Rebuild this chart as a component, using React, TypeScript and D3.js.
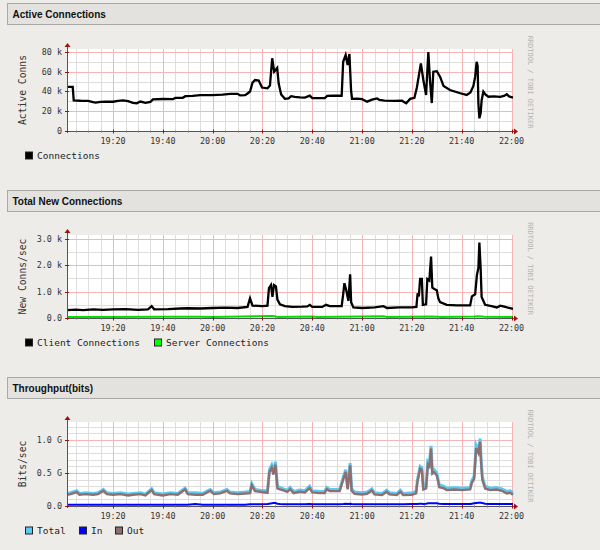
import { useEffect, useRef } from "react";
import * as d3 from "d3";

// minutes after 19:00, value
const activeConnections: [number, number][] = [
  [1.5, 44.6], [3.8, 44.6], [4.2, 31], [7, 30.6], [10, 30.5], [12, 29.2], [13, 28.7], [15, 29.5],
  [17, 29.8], [20, 29.6], [22, 30.5], [24, 31], [26, 30.2], [28, 28.5], [29.5, 28], [31, 29.8],
  [33, 28.5], [35, 29.5], [36, 32], [40, 32.4], [44, 32.2], [45, 33.5], [48, 33.6], [49, 35.2],
  [52, 35.6], [55, 36.4], [60, 36.3], [64, 36.8], [67, 37.5], [70, 37.6], [71, 36], [73, 36.2],
  [74, 38], [75, 40], [76, 49], [77, 51.6], [78.5, 51], [79.8, 44], [82, 43.2], [83, 46],
  [83.9, 73.6], [84.7, 60], [85.9, 63.8], [86.5, 48], [87.5, 37], [89, 32.6], [90.5, 33],
  [91.5, 35.2], [93, 34.6], [95, 34], [97, 33.8], [99, 35.8], [100, 33.4], [103, 33.2],
  [105, 33.3], [106, 35.6], [108, 35.8], [111.8, 35.7], [112.4, 70], [113.4, 77], [114.2, 66.8],
  [114.9, 78], [115.6, 40], [116, 32.6], [118, 32.8], [120, 32.2], [122, 29.7], [124, 31.8],
  [126, 33], [127, 31.5], [129, 30.8], [133, 30.5], [136, 30.6], [137.7, 28], [139.3, 32.5],
  [141, 33.5], [142, 44], [143.6, 68.5], [144.6, 51.6], [145.7, 36.5], [146.6, 80], [147.3, 50],
  [148, 28.3], [148.6, 60], [150, 60.5], [151.3, 55], [152.7, 45.6], [155.3, 41.5], [159.4, 38.2],
  [162, 36.5], [163.5, 39], [164.7, 45.6], [165.4, 55], [166, 70], [166.4, 66], [166.7, 28],
  [167.1, 12.8], [167.6, 18], [168, 31], [168.7, 39.8], [169.5, 37], [170.7, 34.7], [173, 35],
  [175.4, 34.6], [177, 35.5], [178.1, 37.2], [179, 35], [180.6, 33.8],
];

const clientConnections: [number, number][] = [
  [1.5, 0.3], [5, 0.32], [8, 0.3], [12, 0.33], [16, 0.31], [20, 0.33], [25, 0.34], [30, 0.31],
  [34, 0.33], [35.5, 0.45], [36.5, 0.33], [42, 0.34], [47, 0.36], [50, 0.37], [55, 0.36],
  [60, 0.38], [65, 0.39], [70, 0.38], [74, 0.42], [75, 0.75], [76, 0.47], [80, 0.45], [82, 0.47],
  [82.6, 1.13], [83.4, 1.25], [84, 0.8], [84.6, 1.25], [85.4, 1.2], [86, 0.7], [87, 0.52],
  [89, 0.45], [92, 0.42], [96, 0.43], [98, 0.44], [99, 0.5], [100, 0.42], [104, 0.42],
  [105.5, 0.5], [107, 0.45], [111.8, 0.45], [112.4, 0.9], [112.9, 1.32], [113.6, 1.07],
  [114.5, 0.65], [115.2, 1.66], [115.6, 0.6], [116.5, 0.4], [120, 0.38], [125, 0.4],
  [128.6, 0.45], [130, 0.38], [135, 0.4], [140, 0.4], [141.8, 0.42], [142.3, 0.94], [142.8, 0.82],
  [143.3, 1.48], [144, 1.48], [144.4, 0.5], [145.7, 0.52], [146.2, 1.48], [147, 1.42],
  [147.7, 2.33], [148.2, 1.15], [149, 1.1], [150, 1.05], [150.6, 0.75], [151.3, 0.6], [154, 0.5],
  [158, 0.48], [163.4, 0.48], [164.1, 0.82], [165.4, 0.9], [166.1, 1.63], [166.7, 1.9],
  [167.1, 2.86], [167.6, 1.9], [168, 0.8], [169.4, 0.5], [172, 0.45], [174.1, 0.4], [175.5, 0.47],
  [177.5, 0.42], [179, 0.38], [180.6, 0.35],
];

const serverConnections: [number, number][] = [
  [1.5, 0.04], [20, 0.04], [40, 0.045], [54, 0.05], [60, 0.04], [84.3, 0.08], [86, 0.04],
  [100, 0.06], [102, 0.04], [128.6, 0.07], [130, 0.04], [148, 0.06], [150, 0.05], [152, 0.04],
  [165, 0.06], [167, 0.07], [169, 0.05], [180.6, 0.04],
];

// minutes after 19:00, total (G), in (G)
const throughput: [number, number, number][] = [
  [1.5, 0.19, 0.02], [3, 0.2, 0.02], [5.4, 0.23, 0.02], [6.5, 0.19, 0.02], [9, 0.2, 0.02],
  [12, 0.19, 0.02], [14, 0.2, 0.02], [16.1, 0.25, 0.02], [17.5, 0.2, 0.02], [20, 0.19, 0.02],
  [23, 0.2, 0.02], [26, 0.18, 0.02], [28, 0.19, 0.02], [31, 0.2, 0.02], [33, 0.18, 0.02],
  [35.5, 0.26, 0.02], [36.5, 0.2, 0.02], [40, 0.18, 0.02], [43, 0.2, 0.02], [46, 0.19, 0.02],
  [48.9, 0.27, 0.02], [50, 0.2, 0.02], [53, 0.2, 0.03], [56, 0.19, 0.02], [59, 0.25, 0.02],
  [60.5, 0.2, 0.02], [63, 0.21, 0.02], [65.7, 0.25, 0.02], [67, 0.21, 0.02], [70, 0.2, 0.02],
  [73, 0.21, 0.02], [75, 0.22, 0.025], [75.7, 0.34, 0.025], [77, 0.25, 0.025], [79, 0.24, 0.025],
  [82, 0.23, 0.03], [82.8, 0.55, 0.035], [83.7, 0.62, 0.04], [84.4, 0.52, 0.045], [85.2, 0.67, 0.045],
  [86, 0.3, 0.035], [87, 0.28, 0.03], [88.4, 0.26, 0.025], [90, 0.24, 0.025], [91.1, 0.28, 0.025],
  [92.5, 0.22, 0.025], [95, 0.24, 0.025], [97, 0.23, 0.025], [98.9, 0.3, 0.03], [100, 0.23, 0.025],
  [103, 0.22, 0.025], [105, 0.22, 0.025], [105.8, 0.28, 0.025], [107, 0.25, 0.025], [111, 0.25, 0.025],
  [112.5, 0.44, 0.03], [113.4, 0.55, 0.035], [114.2, 0.28, 0.03], [115.2, 0.65, 0.035], [115.8, 0.26, 0.03],
  [117, 0.21, 0.025], [120, 0.2, 0.025], [122, 0.21, 0.025], [123.9, 0.26, 0.025], [125, 0.2, 0.025],
  [128, 0.19, 0.025], [129.9, 0.24, 0.025], [131, 0.2, 0.025], [134, 0.19, 0.025], [135.3, 0.24, 0.025],
  [136.5, 0.19, 0.025], [140, 0.2, 0.03], [141.7, 0.22, 0.03], [142.2, 0.39, 0.03], [143.3, 0.6, 0.035],
  [144, 0.58, 0.035], [144.6, 0.28, 0.03], [145.7, 0.3, 0.035], [146.4, 0.67, 0.04], [147, 0.64, 0.04],
  [147.7, 0.91, 0.04], [148.2, 0.53, 0.04], [148.9, 0.55, 0.04], [150, 0.5, 0.04], [151, 0.32, 0.035],
  [152.7, 0.3, 0.03], [154, 0.27, 0.03], [157, 0.28, 0.03], [160, 0.27, 0.03], [163.4, 0.28, 0.03],
  [164.1, 0.39, 0.035], [165, 0.45, 0.04], [165.8, 0.92, 0.045], [166.7, 0.85, 0.05], [167.4, 1.02, 0.05],
  [167.8, 0.7, 0.05], [168.3, 0.44, 0.045], [169.4, 0.3, 0.035], [171.4, 0.27, 0.03], [174, 0.28, 0.03],
  [176.1, 0.26, 0.03], [178.1, 0.22, 0.03], [179.5, 0.23, 0.03], [180.6, 0.2, 0.03],
];

const timeStart = 1.5;
const timeEnd = 180.6;

const activeTicks = [0, 20, 40, 60, 80];
const activeTickLabels = ["0", "20 k", "40 k", "60 k", "80 k"];
const newConnTicks = [0, 1, 2, 3];
const newConnTickLabels = ["0.0", "1.0 k", "2.0 k", "3.0 k"];
const bitsTicks = [0, 0.5, 1.0];
const bitsTickLabels = ["0.0", "0.5 G", "1.0 G"];

const base = new Date(2000, 0, 1, 19, 0, 0);
const toDate = (m: number) => new Date(base.getTime() + m * 60000);

interface Series {
  data: [number, number][];
  color: string;
  width: number;
}
interface LegendItem {
  label: string;
  color: string;
  x: number;
}
interface Panel {
  title: string;
  header: number;
  top: number;
  bottom: number;
  yMax: number;
  ticks: number[];
  tickLabels: string[];
  minorStep: number;
  yTitle: string;
  series: Series[];
  legend: LegendItem[];
  legendY: number;
}

const MONO = "'DejaVu Sans Mono', monospace";
const LEFT = 67;
const RIGHT = 513;

function drawPanel(svg: d3.Selection<SVGSVGElement, unknown, null, undefined>, p: Panel) {
  const g = svg.append("g");

  g.append("rect")
    .attr("x", 7.5)
    .attr("y", p.header + 0.5)
    .attr("width", 610)
    .attr("height", 21)
    .attr("fill", "#e3e2df")
    .attr("stroke", "#a9a9a7");
  g.append("text")
    .attr("x", 12.5)
    .attr("y", p.header + 15)
    .attr("font-family", "'Liberation Sans', Arial, sans-serif")
    .attr("font-weight", "bold")
    .attr("font-size", 10)
    .attr("fill", "#111")
    .text(p.title);

  const x = d3.scaleTime().domain([toDate(timeStart), toDate(timeEnd)]).range([LEFT, RIGHT]);
  const y = d3.scaleLinear().domain([0, p.yMax]).range([p.bottom, p.top]);

  g.append("rect")
    .attr("x", LEFT)
    .attr("y", p.top)
    .attr("width", RIGHT - LEFT)
    .attr("height", p.bottom - p.top)
    .attr("fill", "#fff");

  const minorX = x.ticks(d3.timeMinute.every(5)!);
  const majorX = x.ticks(d3.timeMinute.every(20)!);
  const minorY = d3.range(p.minorStep, p.yMax, p.minorStep);

  // minor grid
  g.append("g")
    .selectAll("line")
    .data(minorX)
    .join("line")
    .attr("x1", (d) => Math.round(x(d)) + 0.5)
    .attr("x2", (d) => Math.round(x(d)) + 0.5)
    .attr("y1", p.top)
    .attr("y2", p.bottom)
    .attr("stroke", "#dedede");
  g.append("g")
    .selectAll("line")
    .data(minorY)
    .join("line")
    .attr("x1", LEFT)
    .attr("x2", RIGHT)
    .attr("y1", (d) => Math.round(y(d)) + 0.5)
    .attr("y2", (d) => Math.round(y(d)) + 0.5)
    .attr("stroke", "#dedede");

  // major grid
  g.append("g")
    .selectAll("line")
    .data(majorX)
    .join("line")
    .attr("x1", (d) => Math.round(x(d)) + 0.5)
    .attr("x2", (d) => Math.round(x(d)) + 0.5)
    .attr("y1", p.top)
    .attr("y2", p.bottom)
    .attr("stroke", "#f7b4b4");
  g.append("g")
    .selectAll("line")
    .data(p.ticks.filter((d) => d > 0))
    .join("line")
    .attr("x1", LEFT)
    .attr("x2", RIGHT)
    .attr("y1", (d) => Math.round(y(d)) + 0.5)
    .attr("y2", (d) => Math.round(y(d)) + 0.5)
    .attr("stroke", "#f7b4b4");

  // series
  const line = d3
    .line<[number, number]>()
    .x((d) => x(toDate(d[0])))
    .y((d) => y(d[1]));
  p.series.forEach((s) => {
    g.append("path")
      .datum(s.data)
      .attr("fill", "none")
      .attr("stroke", s.color)
      .attr("stroke-width", s.width)
      .attr("stroke-linejoin", "miter")
      .attr("d", line);
  });

  // axes
  const zeroY = Math.round(y(0)) + 0.5;
  g.append("line")
    .attr("x1", LEFT - 2)
    .attr("x2", RIGHT + 2)
    .attr("y1", zeroY)
    .attr("y2", zeroY)
    .attr("stroke", "#555");
  g.append("line")
    .attr("x1", LEFT + 0.5)
    .attr("x2", LEFT + 0.5)
    .attr("y1", p.bottom + 2)
    .attr("y2", p.top - 3)
    .attr("stroke", "#555");
  g.append("path")
    .attr("d", `M${RIGHT + 1},${zeroY - 3}L${RIGHT + 5},${zeroY}L${RIGHT + 1},${zeroY + 3}Z`)
    .attr("fill", "#a01010");
  g.append("path")
    .attr("d", `M${LEFT + 0.5 - 3},${p.top - 2}L${LEFT + 0.5},${p.top - 6}L${LEFT + 0.5 + 3},${p.top - 2}Z`)
    .attr("fill", "#a01010");

  // tick marks
  g.append("g")
    .selectAll("line")
    .data(minorX)
    .join("line")
    .attr("x1", (d) => Math.round(x(d)) + 0.5)
    .attr("x2", (d) => Math.round(x(d)) + 0.5)
    .attr("y1", zeroY - 1)
    .attr("y2", zeroY + 1)
    .attr("stroke", "#777");
  g.append("g")
    .selectAll("line")
    .data(majorX)
    .join("line")
    .attr("x1", (d) => Math.round(x(d)) + 0.5)
    .attr("x2", (d) => Math.round(x(d)) + 0.5)
    .attr("y1", zeroY - 2)
    .attr("y2", zeroY + 2)
    .attr("stroke", "#a01010");
  g.append("g")
    .selectAll("line")
    .data(p.ticks)
    .join("line")
    .attr("x1", LEFT - 2)
    .attr("x2", LEFT + 2)
    .attr("y1", (d) => Math.round(y(d)) + 0.5)
    .attr("y2", (d) => Math.round(y(d)) + 0.5)
    .attr("stroke", "#a01010");

  // tick labels
  const fmt = d3.timeFormat("%H:%M");
  g.append("g")
    .selectAll("text")
    .data(majorX)
    .join("text")
    .attr("x", (d) => x(d))
    .attr("y", p.bottom + 13)
    .attr("text-anchor", "middle")
    .attr("font-family", MONO)
    .attr("font-size", 8.4)
    .attr("fill", "#333")
    .text((d) => fmt(d));
  g.append("g")
    .selectAll("text")
    .data(p.ticks)
    .join("text")
    .attr("x", LEFT - 5)
    .attr("y", (d) => y(d) + 3)
    .attr("text-anchor", "end")
    .attr("font-family", MONO)
    .attr("font-size", 8.4)
    .attr("fill", "#333")
    .text((_d, i) => p.tickLabels[i]);

  // y title
  g.append("text")
    .attr("transform", `translate(26,${(p.top + p.bottom) / 2}) rotate(-90)`)
    .attr("text-anchor", "middle")
    .attr("font-family", MONO)
    .attr("font-size", 9.7)
    .attr("fill", "#333")
    .text(p.yTitle);

  // watermark
  g.append("text")
    .attr("transform", `translate(528,${(p.top + p.bottom) / 2 - 8}) rotate(90)`)
    .attr("text-anchor", "middle")
    .attr("font-family", MONO)
    .attr("font-size", 7)
    .attr("fill", "#b4b4b4")
    .text("RRDTOOL / TOBI OETIKER");

  // legend
  p.legend.forEach((l) => {
    g.append("rect")
      .attr("x", l.x + 0.5)
      .attr("y", p.legendY + 0.5)
      .attr("width", 7)
      .attr("height", 7)
      .attr("fill", l.color)
      .attr("stroke", "#222");
    g.append("text")
      .attr("x", l.x + 12)
      .attr("y", p.legendY + 7.5)
      .attr("font-family", MONO)
      .attr("font-size", 9.5)
      .attr("fill", "#222")
      .text(l.label);
  });
}

export default function App() {
  const svgRef = useRef<SVGSVGElement>(null);

  useEffect(() => {
    if (!svgRef.current) return;
    const svg = d3.select(svgRef.current);
    svg.selectAll("*").remove();

    svg.append("rect").attr("width", 600).attr("height", 550).attr("fill", "#edece9");

    const outSeries = throughput.map((d) => [d[0], d[1] - d[2]] as [number, number]);

    const panels: Panel[] = [
      {
        title: "Active Connections",
        header: 3,
        top: 49,
        bottom: 131,
        yMax: 83,
        ticks: activeTicks,
        tickLabels: activeTickLabels,
        minorStep: 10,
        yTitle: "Active Conns",
        series: [{ data: activeConnections, color: "#000", width: 2.3 }],
        legend: [{ label: "Connections", color: "#000", x: 25 }],
        legendY: 151.5,
      },
      {
        title: "Total New Connections",
        header: 190,
        top: 235,
        bottom: 318,
        yMax: 3.15,
        ticks: newConnTicks,
        tickLabels: newConnTickLabels,
        minorStep: 0.5,
        yTitle: "New Conns/sec",
        series: [
          { data: serverConnections, color: "#00e000", width: 2 },
          { data: clientConnections, color: "#000", width: 2.3 },
        ],
        legend: [
          { label: "Client Connections", color: "#000", x: 25 },
          { label: "Server Connections", color: "#00ff00", x: 154 },
        ],
        legendY: 338.5,
      },
      {
        title: "Throughput(bits)",
        header: 377,
        top: 422,
        bottom: 506,
        yMax: 1.27,
        ticks: bitsTicks,
        tickLabels: bitsTickLabels,
        minorStep: 0.1,
        yTitle: "Bits/sec",
        series: [
          { data: throughput.map((d) => [d[0], d[1]] as [number, number]), color: "#5ec8f4", width: 3 },
          { data: throughput.map((d) => [d[0], d[2]] as [number, number]), color: "#0000ff", width: 2 },
          { data: outSeries, color: "#8e6f6f", width: 2.4 },
        ],
        legend: [
          { label: "Total", color: "#5ec8f4", x: 25 },
          { label: "In", color: "#0000ff", x: 79 },
          { label: "Out", color: "#8e6f6f", x: 115 },
        ],
        legendY: 526.5,
      },
    ];

    panels.forEach((p) => drawPanel(svg, p));
  }, []);

  return (
    <div style={{ position: "absolute", left: 0, top: 0 }}>
      <svg ref={svgRef} width={600} height={550} style={{ display: "block" }} />
    </div>
  );
}
